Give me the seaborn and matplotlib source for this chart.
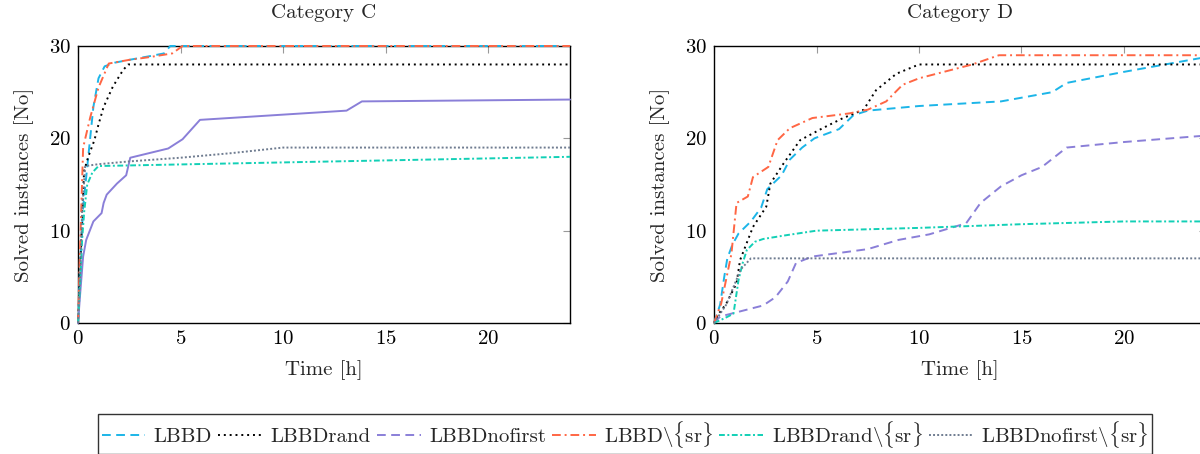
import numpy as np
import pandas as pd
import matplotlib
matplotlib.use("Agg")
import matplotlib.pyplot as plt
from matplotlib.lines import Line2D
import seaborn as sns

series_names = ["LBBD", "LBBDrand", "LBBDnofirst", "LBBD\\{sr}", "LBBDrand\\{sr}", "LBBDnofirst\\{sr}"]
legend_labels = ["LBBD", "LBBDrand", "LBBDnofirst",
                 "LBBD$\\backslash\\{$sr$\\}$", "LBBDrand$\\backslash\\{$sr$\\}$", "LBBDnofirst$\\backslash\\{$sr$\\}$"]

# ---- Category C ----
c_lbbd_t = [0, 0.1, 0.25, 0.5, 0.75, 1.0, 1.3, 1.8, 2.5, 3.5, 4.2, 4.5, 24]
c_lbbd_v = [0, 6, 12.5, 18, 23.4, 26.5, 27.8, 28.2, 28.5, 28.9, 29.2, 30, 30]
c_rand_t = [0, 0.1, 0.2, 0.3, 0.5, 0.8, 1.0, 1.25, 1.7, 2.2, 2.45, 24]
c_rand_v = [0, 5, 12, 16.5, 18, 19.8, 21.5, 23.4, 25.6, 27.4, 28, 28]
c_nof_t = [0, 0.1, 0.25, 0.4, 0.75, 1.15, 1.25, 1.4, 1.9, 2.35, 2.55, 4.4, 5.1, 5.95, 13.1, 13.85, 24]
c_nof_v = [0, 3, 7.2, 9, 11, 11.9, 13, 13.9, 15.1, 16, 17.9, 18.9, 19.9, 22, 23, 24, 24.2]
c_sr_t = [0, 0.1, 0.25, 0.6, 1.0, 1.5, 2.5, 3.5, 4.6, 5.1, 24]
c_sr_v = [0, 8, 19, 22.3, 25.5, 28.1, 28.5, 28.8, 29.2, 30, 30]
c_randsr_t = [0, 0.1, 0.2, 0.3, 0.45, 0.7, 1.0, 24]
c_randsr_v = [0, 4, 9, 12, 15, 16.3, 17, 18]
c_nofsr_t = [0, 0.1, 0.2, 0.35, 1.0, 2.5, 5.0, 7.5, 10.0, 24]
c_nofsr_v = [0, 5, 12, 17, 17.2, 17.5, 17.9, 18.4, 19, 19]

# ---- Category D ----
d_lbbd_t = [0, 0.3, 0.5, 0.65, 0.9, 1.2, 1.8, 2.3, 2.6, 3.3, 3.7, 4.3, 4.9, 6.1, 6.8, 7.5, 10, 14, 16.5, 17.2, 20, 24]
d_lbbd_v = [0, 2, 5, 7, 8.5, 9.7, 11, 12.5, 14.5, 16, 17.7, 19, 20, 21, 22.5, 23, 23.5, 24, 25, 26, 27.2, 28.8]
d_rand_t = [0, 0.2, 0.6, 1.1, 1.27, 1.9, 2.55, 2.75, 3.4, 4.2, 5.3, 6.3, 7.3, 7.9, 8.9, 10.0, 24]
d_rand_v = [0, 0.9, 2.1, 4.3, 6.8, 10.4, 12.6, 15.1, 17.3, 19.8, 21.1, 22.2, 23.1, 25.2, 27.0, 28, 28]
d_nof_t = [0, 0.3, 1.0, 2.4, 3.0, 3.6, 4.0, 4.8, 7.5, 9.0, 10.5, 12.3, 13.0, 14.0, 15.0, 16.0, 17.2, 20, 24]
d_nof_v = [0, 0.7, 1.1, 1.9, 2.8, 4.5, 6.5, 7.2, 8.0, 9.0, 9.6, 10.8, 13.0, 14.8, 16.0, 16.9, 19.0, 19.6, 20.3]
d_sr_t = [0, 0.35, 0.85, 1.1, 1.65, 1.9, 2.65, 3.1, 3.7, 4.8, 6.6, 7.5, 8.4, 9.2, 10.0, 12.6, 13.9, 24]
d_sr_v = [0, 2.1, 7.5, 13.0, 13.7, 15.8, 16.9, 19.8, 21.1, 22.2, 22.7, 23.1, 24.0, 25.8, 26.5, 28, 29, 29]
d_randsr_t = [0, 0.5, 0.95, 1.2, 1.4, 1.6, 2.0, 2.4, 3.5, 5.0, 10, 15, 20, 24]
d_randsr_v = [0, 0.5, 1.0, 4.7, 6.5, 7.9, 8.8, 9.1, 9.5, 10.0, 10.3, 10.7, 11, 11]
d_nofsr_t = [0, 0.3, 0.6, 0.95, 1.3, 1.8, 24]
d_nofsr_v = [0, 1, 2, 3.9, 5.8, 7, 7]

colors = ["#1cb5e8", "#000000", "#8a7fd8", "#ff6644", "#12d0b6", "#6f7c90"]
dash_patterns = [(4.5, 2.8), (1, 2.0), (4.5, 2.8), (4.5, 2, 1, 2), (3, 1.3, 1, 1.3), (1, 1.1)]

def make_df(ts, vs):
    frames = []
    for name, t, v in zip(series_names, ts, vs):
        frames.append(pd.DataFrame({"t": t, "v": v, "series": name}))
    return pd.concat(frames, ignore_index=True)

df_c = make_df([c_lbbd_t, c_rand_t, c_nof_t, c_sr_t, c_randsr_t, c_nofsr_t],
               [c_lbbd_v, c_rand_v, c_nof_v, c_sr_v, c_randsr_v, c_nofsr_v])
df_d = make_df([d_lbbd_t, d_rand_t, d_nof_t, d_sr_t, d_randsr_t, d_nofsr_t],
               [d_lbbd_v, d_rand_v, d_nof_v, d_sr_v, d_randsr_v, d_nofsr_v])

sns.set_theme(style="white")
plt.rcParams["font.family"] = ["cmr10", "DejaVu Serif"]
plt.rcParams["mathtext.fontset"] = "cm"
plt.rcParams["axes.formatter.use_mathtext"] = True
plt.rcParams["axes.unicode_minus"] = False

FS = 15
LW = 1.4
fig = plt.figure(figsize=(12, 4.54), dpi=100)
ax_c = fig.add_axes([78 / 1200, 1 - 323 / 454, 492 / 1200, 277 / 454])
ax_d = fig.add_axes([714 / 1200, 1 - 323 / 454, 492 / 1200, 277 / 454])

palette = dict(zip(series_names, colors))
for ax, df, title, solid_nof in [(ax_c, df_c, "Category C", True), (ax_d, df_d, "Category D", False)]:
    dashes = dict(zip(series_names, dash_patterns))
    if solid_nof:
        dashes["LBBDnofirst"] = ""
    sns.lineplot(data=df, x="t", y="v", hue="series", style="series", palette=palette,
                 dashes=dashes, hue_order=series_names, style_order=series_names,
                 estimator=None, sort=False, units="series", legend=False, ax=ax, linewidth=LW)
    for ln in ax.lines:
        ln.set_clip_on(False)
        ln.set_zorder(3)
    ax.set_xlim(0, 24)
    ax.set_ylim(0, 30)
    ax.set_xticks([0, 5, 10, 15, 20])
    ax.set_yticks([0, 10, 20, 30])
    ax.tick_params(direction="in", length=5, width=0.8, color="#999999", top=True, right=True,
                   labelsize=FS, pad=5, labelcolor="black")
    for s in ax.spines.values():
        s.set_color("black")
        s.set_linewidth(1.0)
        s.set_visible(True)
    ax.set_xlabel("Time [h]", fontsize=FS, labelpad=9)
    ax.set_ylabel("Solved instances [No]", fontsize=FS, labelpad=11)
    ax.set_title(title, fontsize=FS, pad=20)

handles = [Line2D([0], [0], color=c, linewidth=LW, dashes=d) for c, d in zip(colors, dash_patterns)]

leg = fig.legend(handles, legend_labels, loc="center", bbox_to_anchor=(625 / 1200, 1 - 434 / 454),
                 ncol=6, fontsize=FS, frameon=True, fancybox=False, edgecolor="black",
                 handlelength=2.1, handletextpad=0.4, columnspacing=0.3, borderpad=0.2)
leg.get_frame().set_linewidth(1.0)

fig.savefig("out.png", dpi=100)
